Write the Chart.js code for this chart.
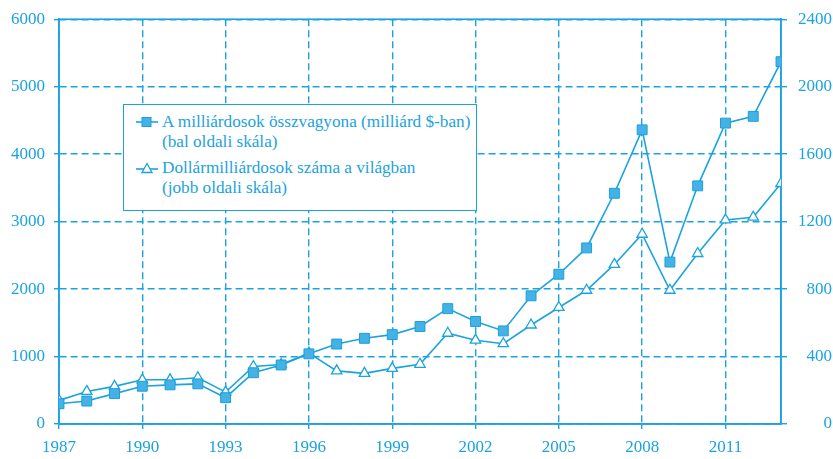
<!DOCTYPE html>
<html>
<head>
<meta charset="utf-8">
<script src="https://cdn.jsdelivr.net/npm/chart.js@4"></script>
<style>
    html, body { margin: 0; padding: 0; background: #fff; }
    #wrap { position: relative; width: 833px; height: 459px; }
    #legendBox {
        position: absolute; left: 123px; top: 104px; width: 354px; height: 107px;
        box-sizing: border-box; border: 1.5px solid #1ba3e0; background: #fff;
        font-family: "Liberation Serif", serif; font-size: 17.2px; color: #1ba3e0;
        padding: 7px 0 0 0;
    }
    .item { position: relative; padding-left: 38px; line-height: 20px; }
    .item + .item { margin-top: 6px; }
    .item svg { position: absolute; left: 11px; top: 4px; }
</style>
</head>
<body>
<div id="wrap">
    <canvas id="chart" width="833" height="459"></canvas>
    <div id="legendBox">
        <div class="item">
            <svg width="24" height="12"><line x1="1" y1="6" x2="23" y2="6" stroke="#1ba3e0" stroke-width="1.6"/><rect x="7" y="1.5" width="9" height="9" fill="#45b2e6" stroke="#1a9fdc" stroke-width="1"/></svg>
            A milliárdosok összvagyona (milliárd $-ban)<br>(bal oldali skála)
        </div>
        <div class="item">
            <svg width="24" height="12"><line x1="1" y1="7" x2="23" y2="7" stroke="#1ba3e0" stroke-width="1.6"/><polygon points="12,1.5 17,10.5 7,10.5" fill="#fff" stroke="#1ba3e0" stroke-width="1.3"/></svg>
            Dollármilliárdosok száma a világban<br>(jobb oldali skála)
        </div>
    </div>
</div>
<script>
    const years = [1987, 1988, 1989, 1990, 1991, 1992, 1993, 1994, 1995, 1996, 1997, 1998, 1999, 2000,
        2001, 2002, 2003, 2004, 2005, 2006, 2007, 2008, 2009, 2010, 2011, 2012, 2013];
    // total wealth, billion $ (left scale)
    const wealth = [300, 340, 450, 560, 580, 595, 390, 760, 875, 1040, 1185, 1270, 1325, 1445,
        1710, 1520, 1380, 1900, 2220, 2610, 3420, 4360, 2400, 3530, 4460, 4560, 5370];
    // number of billionaires (right scale)
    const count = [140, 193, 223, 262, 262, 274, 189, 341, 353, 420, 315, 300, 330, 354,
        538, 497, 476, 587, 691, 793, 946, 1125, 793, 1011, 1210, 1226, 1426];
    const xTicks = [1987, 1990, 1993, 1996, 1999, 2002, 2005, 2008, 2011];

    const blue = '#1ba3e0';
    const tickFont = { family: 'Liberation Serif', size: 17 };

    // solid frame round the plot area
    const framePlugin = {
        id: 'frame',
        beforeDatasetsDraw(chart) {
            const { ctx, chartArea: a } = chart;
            ctx.save();
            ctx.strokeStyle = blue;
            ctx.lineWidth = 1.6;
            ctx.strokeRect(a.left, a.top, a.right - a.left, a.bottom - a.top);
            ctx.restore();
        }
    };

    new Chart(document.getElementById('chart'), {
        type: 'line',
        data: {
            datasets: [{
                label: 'A milliárdosok összvagyona (milliárd $-ban)',
                data: years.map((y, i) => ({ x: y, y: wealth[i] })),
                yAxisID: 'y',
                borderColor: blue,
                borderWidth: 1.6,
                pointStyle: 'rect',
                pointRadius: 7,
                pointBackgroundColor: '#45b2e6',
                pointBorderColor: '#1a9fdc',
                pointBorderWidth: 1,
                tension: 0
            }, {
                label: 'Dollármilliárdosok száma a világban',
                data: years.map((y, i) => ({ x: y, y: count[i] })),
                yAxisID: 'y2',
                borderColor: blue,
                borderWidth: 1.6,
                pointStyle: 'triangle',
                pointRadius: 6,
                pointBackgroundColor: '#fff',
                pointBorderColor: blue,
                pointBorderWidth: 1.3,
                tension: 0
            }]
        },
        options: {
            responsive: false,
            animation: false,
            layout: { padding: { top: 18, right: 1, left: 0, bottom: 0 } },
            plugins: { legend: { display: false }, tooltip: { enabled: false } },
            scales: {
                x: {
                    type: 'linear', min: 1987, max: 2013,
                    afterBuildTicks: s => { s.ticks = xTicks.map(v => ({ value: v })); },
                    afterFit: s => { s.height = 35; },
                    grid: { color: blue, lineWidth: 1.4, tickLength: 5 },
                    border: { color: blue, width: 1.6, dash: [7, 4] },
                    ticks: { color: blue, font: tickFont, padding: 8, maxRotation: 0, callback: v => String(v) }
                },
                y: {
                    position: 'left', min: 0, max: 6000,
                    afterFit: s => { s.width = 59; },
                    grid: { color: blue, lineWidth: 1.4, tickLength: 5 },
                    border: { color: blue, width: 1.6, dash: [7, 4] },
                    ticks: { color: blue, font: tickFont, stepSize: 1000, padding: 9, callback: v => String(v) }
                },
                y2: {
                    position: 'right', min: 0, max: 2400,
                    afterFit: s => { s.width = 51; },
                    grid: { drawOnChartArea: false, color: blue, lineWidth: 1.4, tickLength: 6 },
                    border: { color: blue, width: 1.6 },
                    ticks: { color: blue, font: tickFont, stepSize: 400, crossAlign: 'far', padding: 4, callback: v => String(v) }
                }
            }
        },
        plugins: [framePlugin]
    });
</script>
</body>
</html>
